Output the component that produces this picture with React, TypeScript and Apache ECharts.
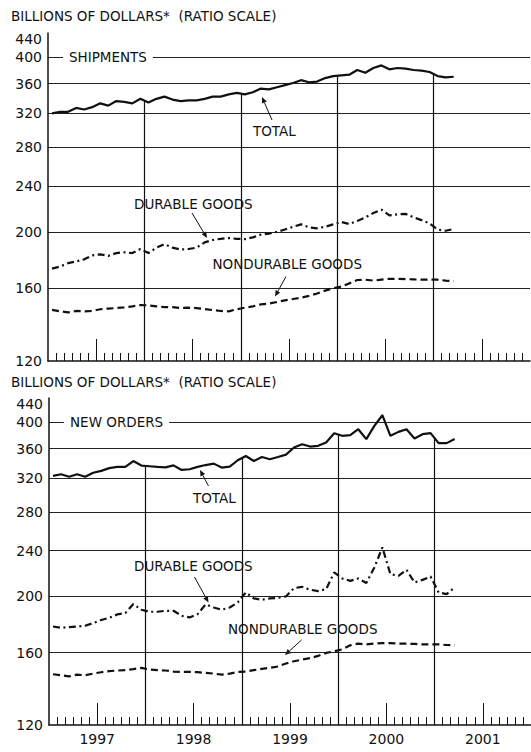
import React, { useEffect, useRef } from 'react';
import * as echarts from 'echarts';

// Monthly data, Jan 1997 – Mar 2001 (billions of dollars)
const yearLabels = ['1997', '1998', '1999', '2000', '2001'];
const yTickLabels = [120, 160, 200, 240, 280, 320, 360, 400, 440];
const yGridValues = [160, 200, 240, 280, 320, 360, 400];

const shipTotal = [320, 322, 322, 327, 325, 328, 333, 330, 336, 335, 333, 339, 334, 339, 342, 338, 336, 337, 337, 339, 342, 342, 345, 347, 345, 348, 353, 352, 355, 358, 361, 365, 362, 363, 368, 371, 372, 373, 380, 376, 383, 387, 381, 383, 382, 380, 379, 377, 371, 369, 370];
const shipDurable = [173, 174.5, 176.8, 178, 179.5, 182.3, 183.1, 182, 184, 184.6, 184, 187, 184, 188, 190.6, 188, 186.6, 187, 188, 192, 193.8, 194.7, 195.3, 194.7, 194.5, 195.8, 198, 198.7, 200.2, 202, 204.2, 206.2, 203.7, 203, 204.2, 206.2, 208.2, 206.4, 209, 211.9, 215.6, 218.5, 213.6, 214.5, 215, 212, 209.7, 207, 202, 201, 202.4];
const shipNondurable = [146.9, 146.1, 145.5, 146.3, 146.1, 146.3, 147.3, 147.7, 148, 148.4, 149, 149.8, 149.6, 149, 148.6, 148.6, 148, 148.2, 148, 147.4, 146.8, 146.3, 146.1, 147.3, 148.2, 149, 150.2, 150.6, 151.6, 152.6, 153.4, 154.2, 155.3, 156.8, 158.6, 160, 161.1, 163.2, 165.4, 165.6, 165, 165.6, 166.2, 166.2, 166, 165.8, 165.6, 165.6, 165.6, 165, 164.6];

const ordTotal = [323, 325, 321.7, 325, 321.7, 327, 329.4, 333, 334.6, 334.6, 342.5, 336.4, 335.5, 334.6, 334, 336.7, 330.6, 331.5, 334.6, 337.1, 339, 333.7, 335, 343.6, 349.5, 342.5, 348.1, 345, 348.1, 351.3, 361.4, 366.2, 362.8, 363.8, 368.8, 382.6, 378.6, 379.6, 388.7, 373.7, 393.9, 410.9, 378.6, 384.6, 388.7, 374.6, 381.1, 382.6, 367.8, 367.8, 373.7];
const ordDurable = [177.5, 176.6, 177.1, 177.4, 178, 179.9, 182.1, 183.7, 186.2, 187.2, 194, 189.7, 188.2, 188.2, 188.9, 188.9, 185.2, 184, 186.4, 193.8, 191.4, 189.7, 191.4, 195.3, 203.2, 198.4, 197.4, 198.4, 198.9, 200, 206.7, 207.8, 205.4, 204.3, 205.9, 220, 214.8, 212.8, 214.8, 211, 224.4, 243, 218.5, 217.1, 222.4, 211.4, 213.6, 216.5, 203.2, 201.9, 207.3];
const ordNondurable = [146.8, 146.2, 145.6, 146.6, 146.2, 147.2, 148, 148.6, 149, 149.2, 149.8, 150.6, 149.6, 149.2, 149, 148.4, 148.2, 148.2, 148, 147.6, 147.2, 146.6, 147.2, 148.2, 148.4, 149.2, 150, 150.6, 151.4, 153.2, 154.6, 155.6, 156.5, 157.9, 159.8, 160.8, 162.1, 164.7, 165.8, 165.3, 165.8, 166.2, 166.2, 165.8, 165.8, 165.6, 165.3, 165.3, 165.3, 164.9, 164.7];

const FONT = 'DejaVu Sans';
const INK = '#111';

const yearBoundaries = [12, 24, 36, 48];
const midYears = [6, 18, 30, 42, 54];
const smallTicks: number[] = [];
for (let m = 1; m < 60; m++) if (midYears.indexOf(m) < 0) smallTicks.push(m);

const toXY = (arr: number[]) => arr.map((v, i) => [i + 0.5, v]);

function arrow(x1: number, y1: number, x2: number, y2: number) {
  const ang = Math.atan2(y2 - y1, x2 - x1);
  const L = 6, W = 2.6;
  const bx = x2 - L * Math.cos(ang), by = y2 - L * Math.sin(ang);
  const px = -Math.sin(ang) * W, py = Math.cos(ang) * W;
  return [
    { type: 'line', silent: true, shape: { x1, y1, x2: bx, y2: by }, style: { stroke: INK, lineWidth: 1 } },
    { type: 'polygon', silent: true, shape: { points: [[x2, y2], [bx + px, by + py], [bx - px, by - py]] }, style: { fill: INK } },
  ];
}

function label(text: string, x: number, y: number, bg = false) {
  const style: any = { text, x: 0, y: 0, fill: INK, font: `13.5px "${FONT}"`, verticalAlign: 'middle', align: 'left' };
  if (bg) { style.backgroundColor = '#fff'; style.padding = [2, 6]; }
  return { type: 'text', x, y, silent: true, z: 100, style };
}

function panelSeries(g: number, total: number[], durable: number[], nondurable: number[]) {
  const drops = yearBoundaries.map((b) => {
    const v = (total[b - 1] + total[b]) / 2;
    return [{ coord: [b, v] }, { coord: [b, 120] }];
  });
  return [
    {
      type: 'line', xAxisIndex: 2 * g, yAxisIndex: g, data: toXY(total), symbol: 'none', z: 5,
      lineStyle: { color: INK, width: 2.2 },
      markLine: {
        silent: true, symbol: ['none', 'none'], label: { show: false },
        lineStyle: { color: INK, width: 1.2, type: 'solid' }, data: drops,
      },
    },
    {
      type: 'line', xAxisIndex: 2 * g, yAxisIndex: g, data: toXY(durable), symbol: 'none', z: 5,
      lineStyle: { color: INK, width: 2.2, type: [7, 3.5, 2, 3.5] },
    },
    {
      type: 'line', xAxisIndex: 2 * g, yAxisIndex: g, data: toXY(nondurable), symbol: 'none', z: 5,
      lineStyle: { color: INK, width: 2.2, type: [7, 4] },
    },
  ];
}

function xAxes(g: number, showYears: boolean) {
  return [
    {
      type: 'value', gridIndex: g, min: 0, max: 60, position: 'bottom',
      axisLine: { show: true, lineStyle: { color: INK, width: 1.5 } },
      axisTick: { show: true, inside: true, length: 8, customValues: smallTicks, lineStyle: { color: INK, width: 1 } },
      axisLabel: { show: false }, splitLine: { show: false },
    },
    {
      type: 'value', gridIndex: g, min: 0, max: 60, position: 'bottom',
      axisLine: { show: false },
      axisTick: { show: true, inside: true, length: 22, customValues: midYears, lineStyle: { color: INK, width: 1 } },
      axisLabel: {
        show: showYears, customValues: midYears, margin: 7,
        formatter: (v: number) => yearLabels[Math.round((v - 6) / 12)],
        fontFamily: FONT, fontSize: 14, color: INK,
      },
      splitLine: { show: false },
    },
  ];
}

function yAxis(g: number) {
  return {
    type: 'log', gridIndex: g, min: 120, max: 440, logBase: 10,
    axisLine: { show: true, lineStyle: { color: INK, width: 1.5 } },
    axisTick: { show: false, customValues: yGridValues },
    splitLine: { show: true, lineStyle: { color: '#222', width: 1 } },
    minorTick: { show: false }, minorSplitLine: { show: false },
    axisLabel: {
      customValues: yTickLabels, margin: 6, fontFamily: FONT, fontSize: 14, color: INK,
      formatter: (v: number) => (Math.round(v) === 440 ? '{t|440}' : String(Math.round(v))),
      rich: { t: { fontFamily: FONT, fontSize: 14, color: INK, padding: [12, 0, 0, 0] } },
    },
  };
}

export default function App() {
  const ref = useRef<HTMLDivElement>(null);
  useEffect(() => {
    if (!ref.current) return;
    const chart = echarts.init(ref.current, null, { renderer: 'svg' });
    const graphic: any[] = [
      label('BILLIONS OF DOLLARS*  (RATIO SCALE)', 11, 16),
      label('SHIPMENTS', 63, 57, true),
      label('TOTAL', 253, 131),
      ...arrow(272, 120, 262, 97),
      label('DURABLE GOODS', 134, 203.5),
      ...arrow(192, 213, 207, 238),
      label('NONDURABLE GOODS', 212.5, 264),
      ...arrow(286, 276.5, 275, 296.5),

      label('BILLIONS OF DOLLARS*  (RATIO SCALE)', 11, 382),
      label('NEW ORDERS', 64, 422, true),
      label('TOTAL', 193, 497.5),
      ...arrow(208.5, 486, 200, 470),
      label('DURABLE GOODS', 134, 566),
      ...arrow(194.5, 577, 208.5, 602.5),
      label('NONDURABLE GOODS', 228, 629),
      ...arrow(301.5, 640, 285, 655),
    ];
    chart.setOption({
      animation: false,
      backgroundColor: '#fff',
      grid: [
        { left: 48, top: 33, width: 482, height: 328, outerBoundsMode: 'none', containLabel: false },
        { left: 49, top: 398, width: 482, height: 327, outerBoundsMode: 'none', containLabel: false },
      ],
      xAxis: [...xAxes(0, false), ...xAxes(1, true)],
      yAxis: [yAxis(0), yAxis(1)],
      series: [
        ...panelSeries(0, shipTotal, shipDurable, shipNondurable),
        ...panelSeries(1, ordTotal, ordDurable, ordNondurable),
      ],
      graphic,
    });
    return () => chart.dispose();
  }, []);
  return <div ref={ref} style={{ position: 'absolute', left: 0, top: 0, width: 531, height: 752 }} />;
}
